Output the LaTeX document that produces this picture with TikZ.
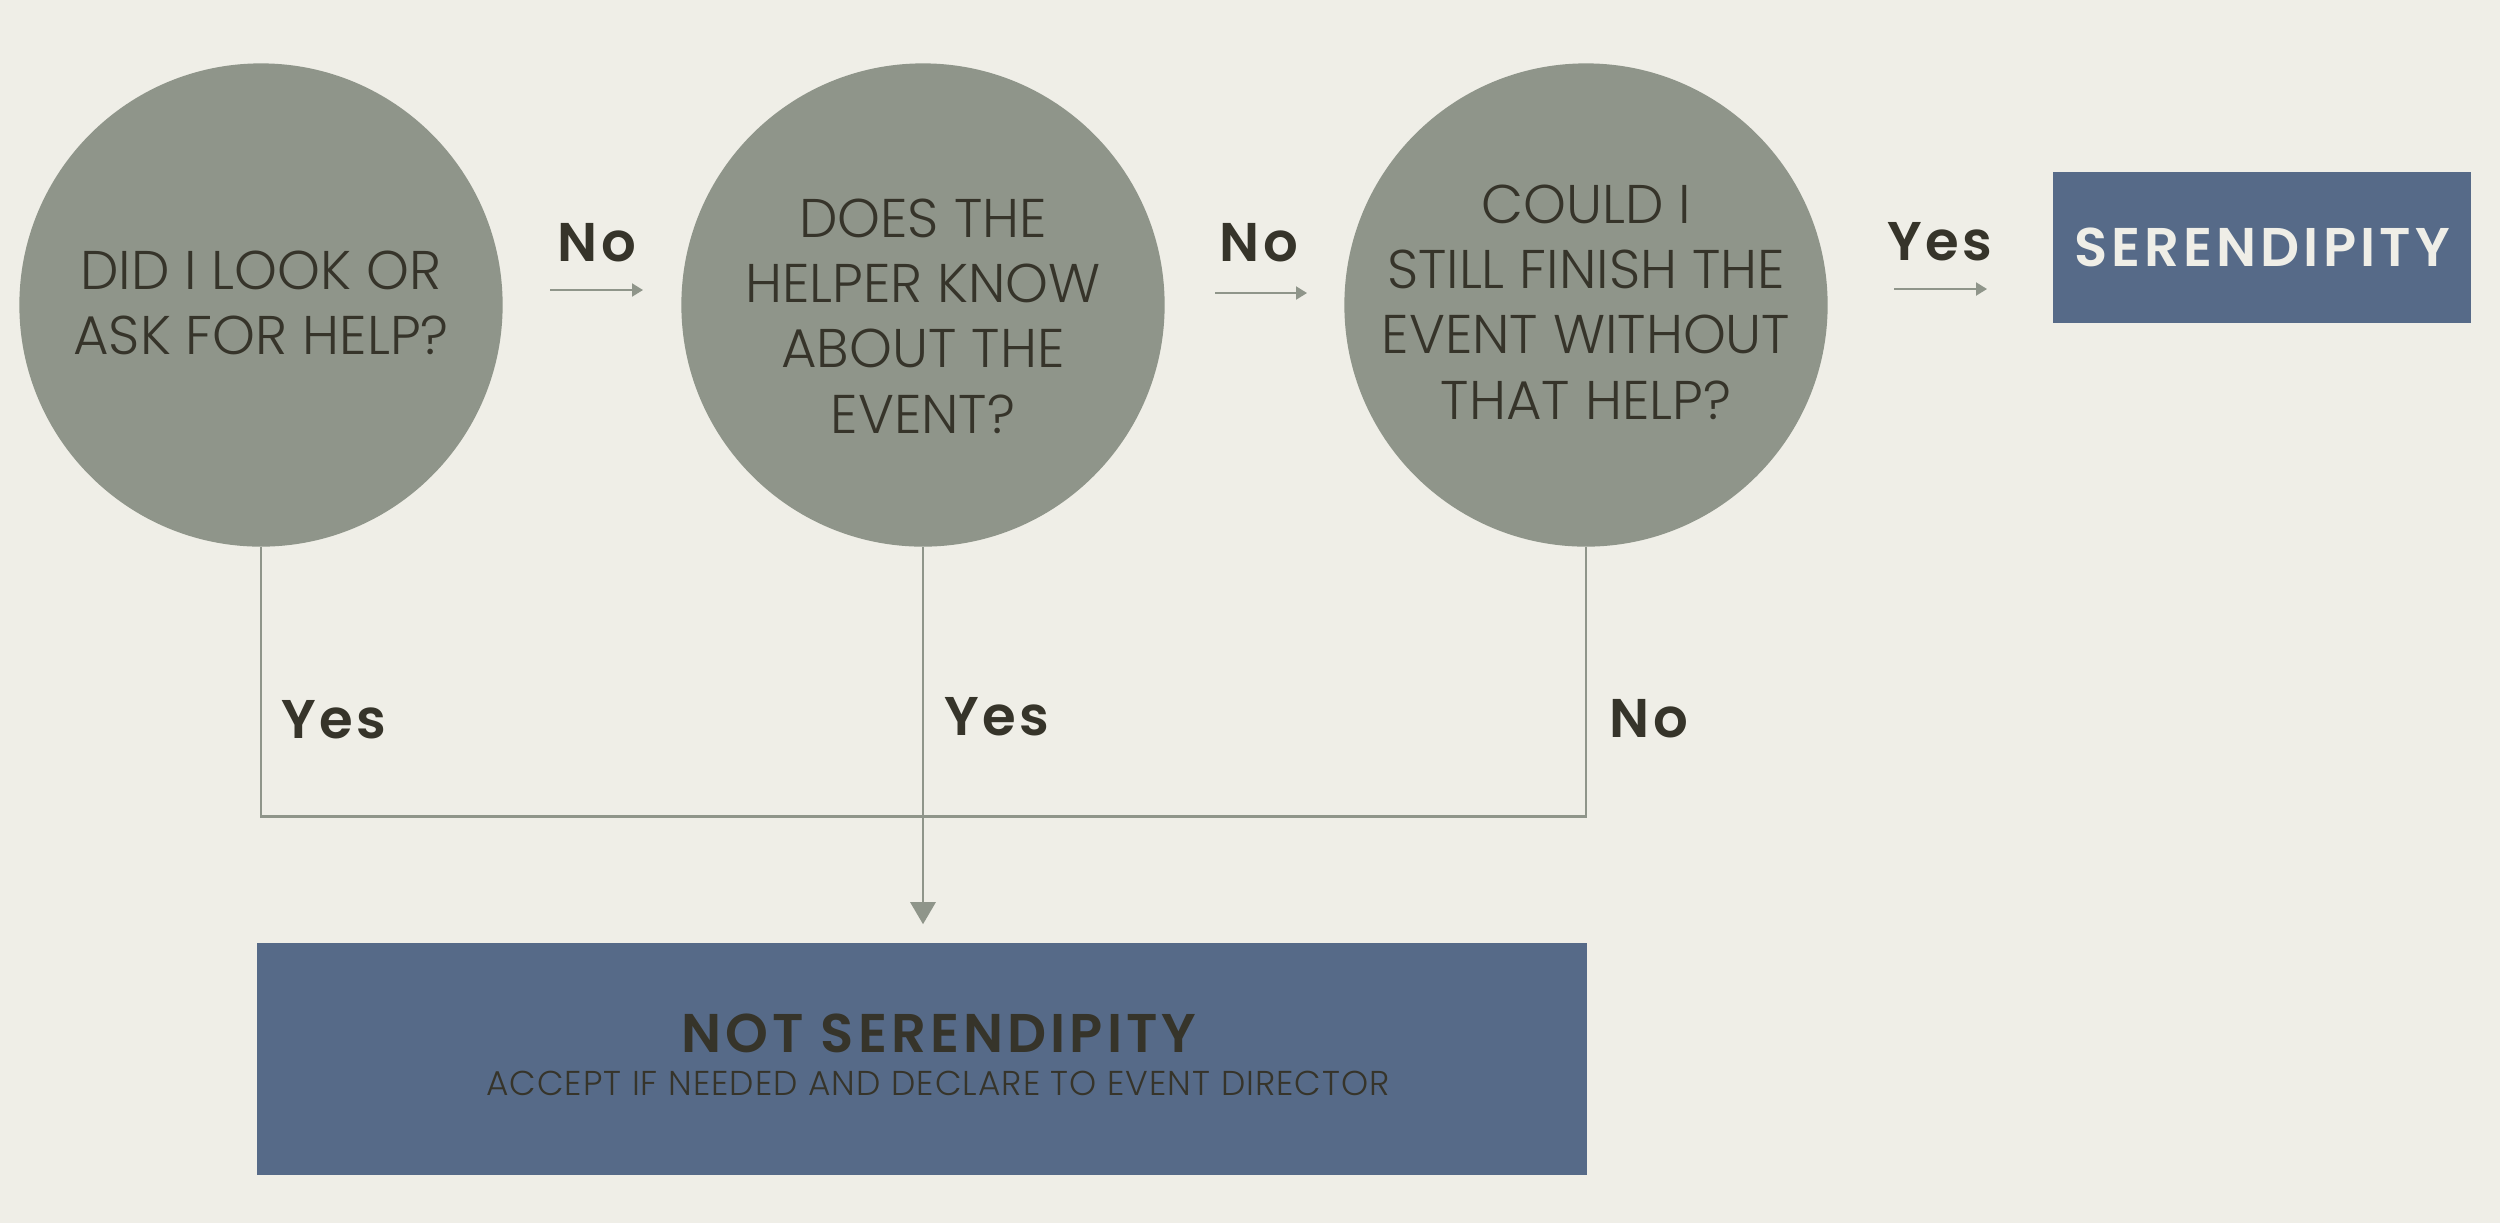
\documentclass[tikz,border=0pt]{standalone}
\usepackage{fontspec}
\setmainfont{Poppins}
\newfontfamily\askfont{Poppins Light}
\newfontfamily\notefont{Poppins Light}[LetterSpace=3]
\newfontfamily\tagfont{Poppins SemiBold}[LetterSpace=6]
\newfontfamily\boxfont{Poppins SemiBold}[LetterSpace=7.5]
\usetikzlibrary{arrows.meta}
\definecolor{paper}{HTML}{EFEEE7}
\definecolor{sage}{HTML}{8F958A}
\definecolor{slate}{HTML}{566A88}
\definecolor{ink}{HTML}{36342A}

\begin{document}
\begin{tikzpicture}[x=0.01cm,y=-0.01cm,line cap=butt,line join=miter,
  question/.style={circle,fill=sage,minimum size=4.83cm,inner sep=0pt},
  asktext/.style={align=center,text=ink,inner sep=0pt,font=\askfont\fontsize{15.5}{18.6}\selectfont},
  answer/.style={anchor=base,text=ink,font=\tagfont\fontsize{15.5}{18}\selectfont},
  hop/.style={-{Triangle[length=0.11cm,width=0.13cm]},draw=sage,line width=0.02cm},
  link/.style={draw=sage,line width=0.028cm}]
\fill[paper] (0,0) rectangle (2500,1223);
% questions
\node[question] (q1) at (261,305) {};
\node[question] (q2) at (923,305) {};
\node[question] (q3) at (1586,305) {};
\node[asktext] (q1t) at (261,303) {DID I LOOK OR\\ASK FOR HELP?};
\node[asktext] (q2t) at (923,316) {DOES THE\\HELPER KNOW\\ABOUT THE\\EVENT?};
\node[asktext] (q3t) at (1586,302) {COULD I\\STILL FINISH THE\\EVENT WITHOUT\\THAT HELP?};
% outcomes
\node[rectangle,fill=slate,minimum width=4.18cm,minimum height=1.51cm,text=paper,
  font=\boxfont\fontsize{15.5}{18}\selectfont] (yesbox) at (2262,247.5) {SERENDIPITY};
\node[rectangle,fill=slate,minimum width=13.30cm,minimum height=2.32cm] (nobox) at (922,1059) {};
\node[anchor=base,text=ink,font=\boxfont\fontsize{15.5}{18}\selectfont] (notitle) at (939,1052) {NOT SERENDIPITY};
\node[anchor=base,text=ink,font=\notefont\fontsize{9.8}{12}\selectfont] (nonote) at (938,1095) {ACCEPT IF NEEDED AND DECLARE TO EVENT DIRECTOR};
% arrows along the top
\coordinate (h1a) at (550,290);
\coordinate (h1b) at (643,290);
\coordinate (h2a) at (1215,293);
\coordinate (h2b) at (1307,293);
\coordinate (h3a) at (1894,289);
\coordinate (h3b) at (1987,289);
\draw[hop] (h1a) -- (h1b);
\draw[hop] (h2a) -- (h2b);
\draw[hop] (h3a) -- (h3b);
\node[answer] (n1) at (597,261) {No};
\node[answer] (n2) at (1259,261) {No};
\node[answer] (y3) at (1940,260) {Yes};
% paths down
\draw[link] (q1.south) -- ++(0,269) -| (q3.south);
\draw[link,-{Triangle[length=0.22cm,width=0.25cm]},shorten >=0.18cm] (q2.south) -- (q2.south |- nobox.north);
\node[answer] (y1) at (334,738) {Yes};
\node[answer] (y2) at (997,735) {Yes};
\node[answer] (n3) at (1649,737) {No};
\end{tikzpicture}
\end{document}
